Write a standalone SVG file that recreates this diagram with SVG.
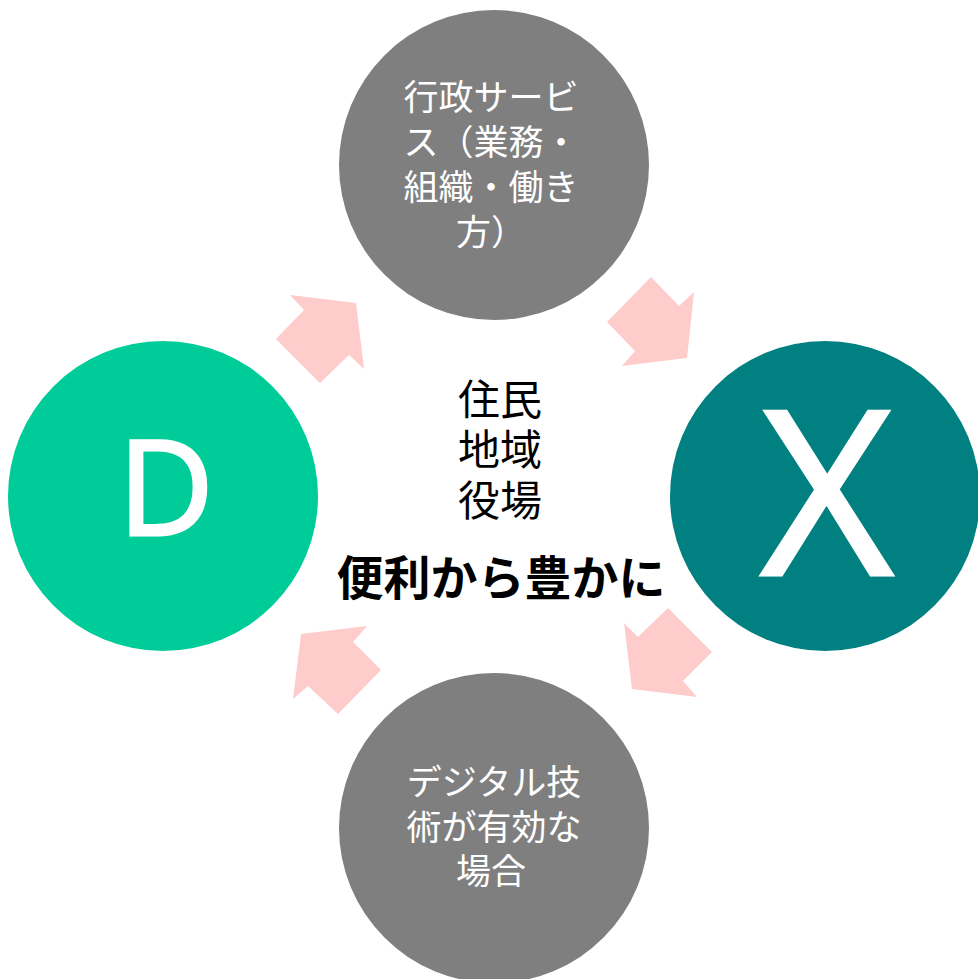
<svg xmlns="http://www.w3.org/2000/svg" width="978" height="979" viewBox="0 0 978 979">
<style>
.gray{fill:#7F7F7F}
.arrow{fill:#FFCCCC}
.wt{fill:#FFFFFF;font-family:"Noto Sans CJK JP","Noto Sans",sans-serif;font-size:35px;text-anchor:middle}
.big{fill:#FFFFFF;stroke:#FFFFFF;stroke-width:3;stroke-linejoin:miter;font-family:"Open Sans","Noto Sans",sans-serif;text-anchor:middle}
.ct{fill:#000000;font-family:"Noto Sans CJK JP",sans-serif;text-anchor:middle}
</style>
<rect width="978" height="979" fill="#FFFFFF"/>
<g id="connectors">
<polygon class="arrow" points="290,295 356,303 364,369 349,355 320,383 276,339 304,310"/>
<polygon class="arrow" points="651,277 679,306 694,292 687,358 622,366 635,351 607,322"/>
<polygon class="arrow" points="668,608 712,652 683,681 697,697 632,689 624,623 638,637"/>
<polygon class="arrow" points="367,626 353,642 381,670 338,714 308,686 293,699 301,634"/>
</g>
<g id="node-top">
<circle class="gray" cx="494" cy="165" r="155"/>
<text class="wt"><tspan x="491" y="110">行政サービ</tspan><tspan x="491" y="155">ス（業務・</tspan><tspan x="491" y="200">組織・働き</tspan><tspan x="491" y="245">方）</tspan></text>
</g>
<g id="node-right">
<circle cx="825" cy="496" r="155" fill="#008080"/>
<text class="big" x="827" y="575" font-size="230" stroke-width="4">X</text>
</g>
<g id="node-bottom">
<circle class="gray" cx="494" cy="828" r="155"/>
<text class="wt"><tspan x="494" y="795">デジタル技</tspan><tspan x="494" y="840">術が有効な</tspan><tspan x="491" y="884">場合</tspan></text>
</g>
<g id="node-left">
<circle cx="163" cy="496" r="155" fill="#00CC99"/>
<text class="big" x="166" y="535" font-size="132">D</text>
</g>
<g id="center">
<text class="ct" font-size="42"><tspan x="500" y="415">住民</tspan><tspan x="500" y="465">地域</tspan><tspan x="500" y="516">役場</tspan></text>
<text class="ct" x="501" y="595" font-size="47" font-weight="bold">便利から豊かに</text>
</g>
</svg>
